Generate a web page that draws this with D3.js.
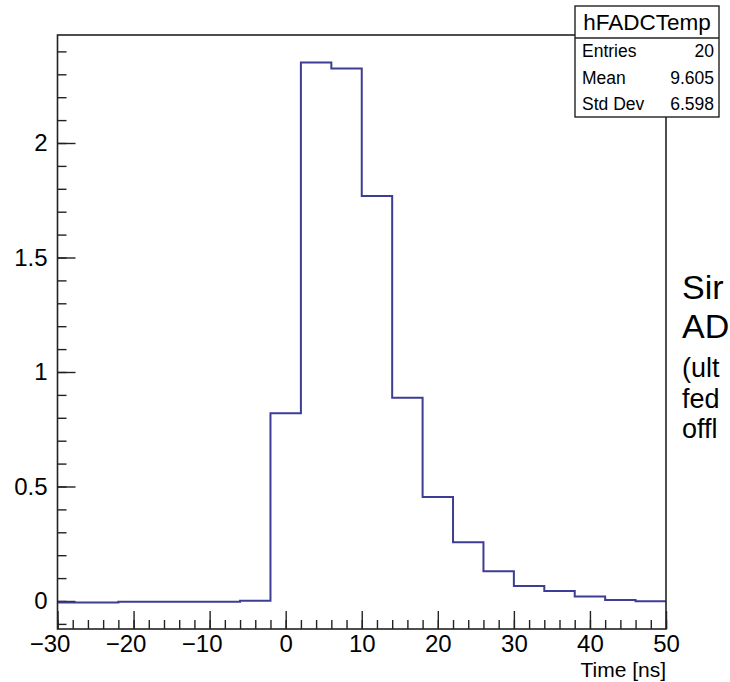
<!DOCTYPE html>
<html>
<head>
<meta charset="utf-8">
<script src="https://cdn.jsdelivr.net/npm/d3@7"></script>
<style>
  body { margin: 0; background: #fff; }
  svg { display: block; font-family: "Liberation Sans", Arial, sans-serif; }
</style>
</head>
<body>
<div id="chart"></div>
<script>
// histogram bins (4 ns wide), lower edges and contents
const binStarts = [-30, -26, -22, -18, -14, -10, -6, -2, 2, 6, 10, 14, 18, 22, 26, 30, 34, 38, 42, 46];
const binWidth = 4;
const contents = [-0.007, -0.007, -0.003, -0.003, -0.003, -0.003, 0.001, 0.82, 2.351, 2.325,
                  1.769, 0.888, 0.454, 0.256, 0.130, 0.065, 0.044, 0.020, 0.004, -0.001];

const xTicks = [-30, -20, -10, 0, 10, 20, 30, 40, 50];
const yTicks = [0, 0.5, 1, 1.5, 2];
const statsLabels = ["Entries", "Mean", "Std Dev"];
const statsValues = ["20", "9.605", "6.598"];
// text beside the plot, only the part that shows before the page edge
const sideLines = ["Sir", "AD", "(ult", "fed", "offl"];

const W = 730, H = 682;
const frame = {left: 57.5, right: 666, top: 35, bottom: 629};

var svg = d3.select("#chart")
  .append("svg")
    .attr("width", W)
    .attr("height", H);

var x = d3.scaleLinear()
  .domain([-30, 50])
  .range([frame.left, frame.right]);

var y = d3.scaleLinear()
  .domain([-0.1223, 2.4716])
  .range([frame.bottom, frame.top]);

// minor ticks first, then major ticks with labels
var minorX = d3.range(-30, 50.01, 2);
svg.append("g")
  .attr("transform", `translate(0,${frame.bottom})`)
  .call(d3.axisBottom(x).tickValues(minorX).tickSize(-9).tickFormat(""))
  .call(g => g.select(".domain").remove());

svg.append("g")
  .attr("transform", `translate(0,${frame.bottom})`)
  .call(d3.axisBottom(x).tickValues(xTicks).tickSize(-18).tickPadding(6)
        .tickFormat(d => d < 0 ? "\u2212" + Math.abs(d) : d))
  .call(g => g.select(".domain").remove())
  .call(g => g.selectAll("text")
      .style("font-size", "24px")
      .attr("fill", "#000")
      .attr("dx", d => d < 0 ? -8 : 0));

var minorY = d3.range(-0.1, 2.45, 0.1).map(v => Math.round(v * 10) / 10);
svg.append("g")
  .attr("transform", `translate(${frame.left},0)`)
  .call(d3.axisLeft(y).tickValues(minorY).tickSize(-9).tickFormat(""))
  .call(g => g.select(".domain").remove());

svg.append("g")
  .attr("transform", `translate(${frame.left},0)`)
  .call(d3.axisLeft(y).tickValues(yTicks).tickSize(-18).tickPadding(10)
        .tickFormat(d3.format("")))
  .call(g => g.select(".domain").remove())
  .call(g => g.selectAll("text").style("font-size", "24px").attr("fill", "#000"));

svg.selectAll(".tick line").attr("stroke", "#222").attr("stroke-width", 1.4);

// the histogram outline
var pts = binStarts.map((b, i) => [b, contents[i]]);
pts.push([binStarts[binStarts.length - 1] + binWidth, contents[contents.length - 1]]);

var line = d3.line()
  .x(d => x(d[0]))
  .y(d => y(d[1]))
  .curve(d3.curveStepAfter);

svg.append("path")
  .datum(pts)
  .attr("fill", "none")
  .attr("stroke", "#3d3d94")
  .attr("stroke-width", 2)
  .attr("d", line);

// frame
svg.append("rect")
  .attr("x", frame.left)
  .attr("y", frame.top)
  .attr("width", frame.right - frame.left)
  .attr("height", frame.bottom - frame.top)
  .attr("fill", "none")
  .attr("stroke", "#222")
  .attr("stroke-width", 1.6);

svg.append("text")
  .attr("x", frame.right)
  .attr("y", 677)
  .attr("text-anchor", "end")
  .style("font-size", "21px")
  .text("Time [ns]");

// stats box
var box = {x: 575, y: 6, w: 144, h: 111, titleH: 32};
svg.append("rect")
  .attr("x", box.x).attr("y", box.y)
  .attr("width", box.w).attr("height", box.h)
  .attr("fill", "#fff")
  .attr("stroke", "#222")
  .attr("stroke-width", 1.4);
svg.append("line")
  .attr("x1", box.x).attr("x2", box.x + box.w)
  .attr("y1", box.y + box.titleH).attr("y2", box.y + box.titleH)
  .attr("stroke", "#222")
  .attr("stroke-width", 1.4);
svg.append("text")
  .attr("x", box.x + box.w / 2)
  .attr("y", box.y + 24)
  .attr("text-anchor", "middle")
  .style("font-size", "22.5px")
  .text("hFADCTemp");

var rowH = (box.h - box.titleH) / 3;
statsLabels.forEach((lab, i) => {
  var cy = box.y + box.titleH + rowH * (i + 0.5);
  svg.append("text")
    .attr("x", box.x + 7)
    .attr("y", cy)
    .attr("dy", "0.36em")
    .style("font-size", "17.5px")
    .text(lab);
  svg.append("text")
    .attr("x", box.x + box.w - 5)
    .attr("y", cy)
    .attr("dy", "0.36em")
    .attr("text-anchor", "end")
    .style("font-size", "17.5px")
    .text(statsValues[i]);
});

var sideY = [299, 338, 377, 408, 438];
var sideSize = [34, 34, 27, 27, 27];
sideLines.forEach((t, i) => {
  svg.append("text")
    .attr("x", 682)
    .attr("y", sideY[i])
    .style("font-size", sideSize[i] + "px")
    .text(t);
});
</script>
</body>
</html>
